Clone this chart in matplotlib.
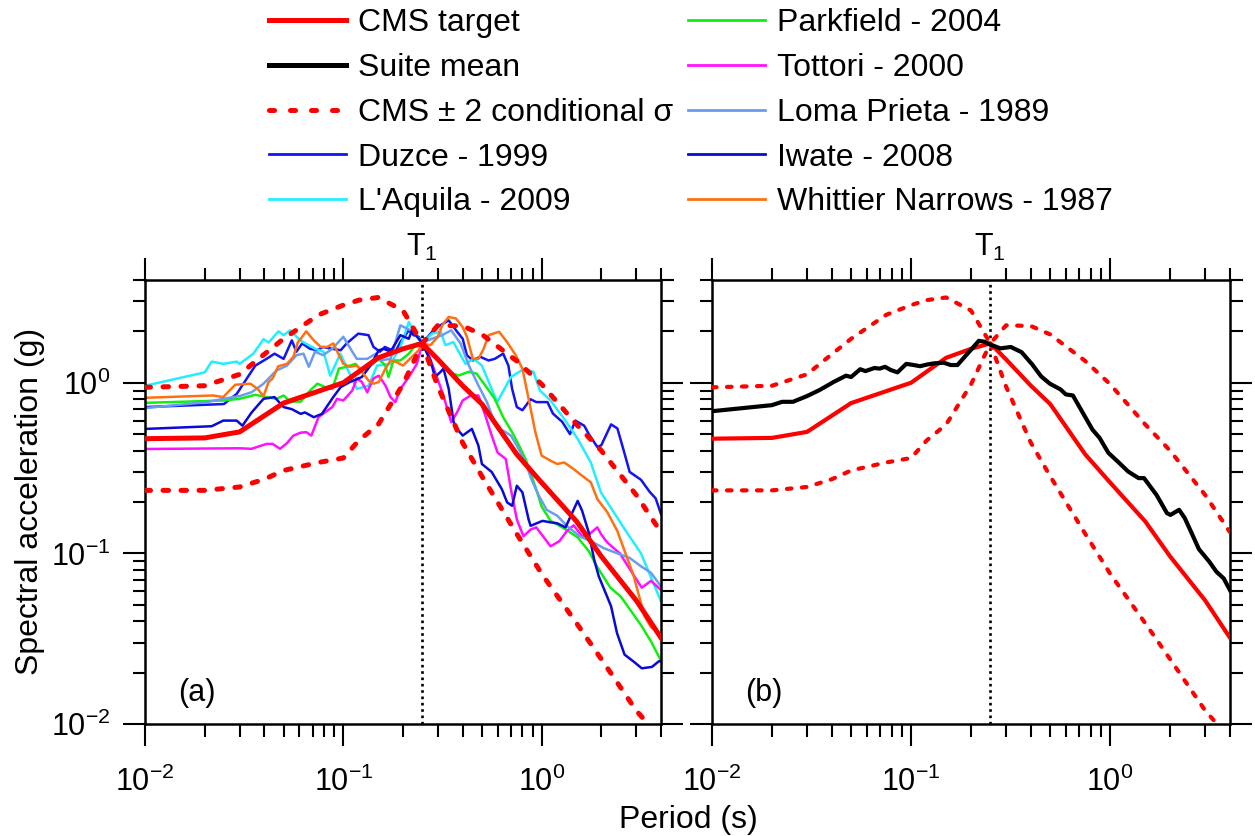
import numpy as np
import matplotlib.pyplot as plt
from matplotlib.lines import Line2D
from matplotlib.ticker import LogLocator, NullFormatter

plt.rcParams['font.family'] = ['Liberation Sans', 'DejaVu Sans']
plt.rcParams['mathtext.fontset'] = 'custom'
plt.rcParams['mathtext.rm'] = 'Liberation Sans'
plt.rcParams['axes.unicode_minus'] = False
plt.rcParams['font.size'] = 22

T1 = 0.25

# CMS target and +/- 2 conditional sigma
cms_T = [0.01, 0.02, 0.03, 0.05, 0.1, 0.15, 0.2, 0.25, 0.3, 0.4, 0.5, 0.75, 1.0, 1.5, 2.0, 3.0, 4.0]
cms_sa = [0.47, 0.475, 0.515, 0.76, 1.0, 1.40, 1.58, 1.70, 1.37, 0.96, 0.75, 0.38, 0.26, 0.154, 0.096, 0.053, 0.032]

env_T = [0.01, 0.02, 0.03, 0.04, 0.05, 0.075, 0.1, 0.12, 0.15, 0.2, 0.25,
         0.3, 0.4, 0.5, 0.75, 1.0, 1.5, 2.0, 3.0, 4.0]
upper_sa = [0.94, 0.96, 1.12, 1.47, 1.81, 2.50, 2.85, 3.05, 3.16, 2.65, 1.70,
            2.17, 2.15, 1.92, 1.34, 0.98, 0.57, 0.40, 0.22, 0.133]
lower_sa = [0.234, 0.234, 0.245, 0.272, 0.306, 0.341, 0.362, 0.46, 0.569, 0.978, 1.70,
            0.95, 0.444, 0.283, 0.13, 0.076, 0.039, 0.024, 0.012, 0.0082]

# suite mean (panel b)
mean_T = [0.01, 0.02, 0.0225, 0.0255, 0.030, 0.0347, 0.0408, 0.0471, 0.050, 0.0555, 0.059,
          0.0654, 0.0696, 0.074, 0.0787, 0.0854, 0.0946, 0.103, 0.111, 0.121, 0.131, 0.146,
          0.158, 0.171, 0.194, 0.219, 0.233, 0.248, 0.281, 0.317, 0.359, 0.406, 0.450, 0.498,
          0.563, 0.599, 0.650, 0.721, 0.815, 0.885, 0.98, 1.09, 1.23, 1.39, 1.48, 1.71, 1.93,
          2.01, 2.22, 2.37, 2.57, 2.79, 3.15, 3.42, 3.72, 4.0]
mean_sa = [0.681, 0.739, 0.773, 0.773, 0.835, 0.906, 1.01, 1.10, 1.08, 1.20, 1.17,
           1.22, 1.21, 1.24, 1.19, 1.15, 1.29, 1.27, 1.25, 1.28, 1.30, 1.31,
           1.27, 1.27, 1.50, 1.76, 1.74, 1.68, 1.59, 1.62, 1.51, 1.28, 1.09, 0.987,
           0.914, 0.854, 0.842, 0.681, 0.531, 0.475, 0.388, 0.346, 0.302, 0.276, 0.276, 0.220, 0.172,
           0.168, 0.180, 0.161, 0.131, 0.106, 0.0893, 0.078, 0.0713, 0.0608]

# individual records (panel a)
duzce_T = [0.01, 0.025, 0.029, 0.036, 0.041, 0.045, 0.05, 0.055, 0.058, 0.062, 0.068, 0.074,
           0.079, 0.088, 0.097, 0.104, 0.119, 0.134, 0.142, 0.153, 0.162, 0.183, 0.194, 0.214,
           0.226, 0.24, 0.25, 0.29, 0.34, 0.375, 0.4, 0.42, 0.45, 0.49, 0.54, 0.58, 0.64, 0.68,
           0.71, 0.75, 0.8, 0.88, 0.94, 1.0, 1.07, 1.14, 1.27, 1.39, 1.48, 1.64, 1.73, 1.91, 2.0,
           2.24, 2.41, 2.55, 2.78, 3.17, 3.5, 3.76, 4.0]
duzce_sa = [0.72, 0.75, 0.86, 1.26, 1.38, 1.48, 1.38, 1.77, 1.52, 1.70, 1.58, 1.55,
            1.62, 1.58, 1.55, 1.70, 1.94, 1.90, 1.62, 1.52, 1.62, 1.52, 1.73, 2.03,
            1.90, 1.86, 1.70, 2.08, 2.32, 1.99, 1.81, 1.45, 1.35, 1.42, 1.35, 1.38, 1.48, 1.26,
            0.92, 0.72, 0.69, 0.80, 0.77, 0.77, 0.77, 0.66, 0.59, 0.50, 0.60, 0.56, 0.50, 0.42, 0.43,
            0.57, 0.54, 0.43, 0.30, 0.27, 0.23, 0.21, 0.17]

laquila_T = [0.01, 0.02, 0.0217, 0.0248, 0.029, 0.030, 0.0352, 0.0396, 0.042, 0.0471, 0.050,
             0.054, 0.0606, 0.0723, 0.0795, 0.0859, 0.0966, 0.102, 0.117, 0.134, 0.148, 0.173,
             0.194, 0.214, 0.226, 0.25, 0.28, 0.31, 0.327, 0.359, 0.413, 0.455, 0.50, 0.597,
             0.70, 0.81, 0.91, 0.98, 1.11, 1.30, 1.52, 1.77, 1.99, 2.32, 2.72, 3.17, 4.0]
laquila_sa = [0.96, 1.15, 1.33, 1.29, 1.33, 1.29, 1.48, 1.80, 1.72, 2.0, 1.90,
              2.03, 1.77, 1.58, 1.52, 1.10, 1.48, 1.29, 0.92, 0.96, 1.26, 1.29,
              1.62, 2.27, 1.99, 1.70, 1.94, 1.99, 1.66, 1.73, 1.29, 1.38, 1.26, 0.77,
              1.08, 1.20, 1.16, 0.90, 0.787, 0.614, 0.469, 0.341, 0.228, 0.173, 0.13, 0.10, 0.0524]

parkfield_T = [0.01, 0.025, 0.030, 0.036, 0.041, 0.046, 0.050, 0.054, 0.061, 0.068, 0.074, 0.081,
               0.088, 0.095, 0.104, 0.115, 0.124, 0.137, 0.151, 0.163, 0.169, 0.179, 0.194, 0.214,
               0.235, 0.25, 0.27, 0.29, 0.315, 0.34, 0.38, 0.43, 0.47, 0.52, 0.58, 0.64, 0.71,
               0.77, 0.83, 0.89, 0.95, 1.0, 1.11, 1.3, 1.52, 1.73, 1.91, 2.22, 2.5, 2.75, 3.17,
               3.56, 4.0]
parkfield_sa = [0.762, 0.787, 0.805, 0.85, 0.824, 0.805, 0.842, 0.776, 0.775, 0.90, 0.987, 0.943,
                0.92, 1.21, 1.24, 1.29, 1.18, 1.26, 1.38, 1.26, 1.08, 1.35, 1.35, 1.48,
                1.70, 1.70, 1.55, 1.42, 1.29, 1.16, 1.10, 1.16, 1.13, 0.964, 0.805, 0.628, 0.513,
                0.428, 0.357, 0.285, 0.228, 0.188, 0.155, 0.14, 0.124, 0.103, 0.083, 0.063, 0.056, 0.048,
                0.038, 0.0305, 0.0235]

tottori_T = [0.01, 0.030, 0.0345, 0.041, 0.044, 0.048, 0.052, 0.056, 0.061, 0.065, 0.069, 0.075,
             0.081, 0.088, 0.093, 0.10, 0.111, 0.117, 0.124, 0.132, 0.142, 0.151, 0.163, 0.173,
             0.183, 0.194, 0.214, 0.235, 0.25, 0.27, 0.29, 0.32, 0.35, 0.375, 0.40, 0.44, 0.48,
             0.52, 0.56, 0.60, 0.66, 0.70, 0.75, 0.81, 0.88, 0.94, 1.11, 1.23, 1.34, 1.45, 1.60,
             1.73, 1.91, 2.0, 2.14, 2.48, 2.9, 3.2, 3.56, 4.0]
tottori_sa = [0.409, 0.413, 0.41, 0.438, 0.438, 0.41, 0.443, 0.49, 0.51, 0.513, 0.49, 0.628,
              0.672, 0.72, 0.805, 0.787, 0.90, 1.06, 1.01, 0.88, 1.06, 1.10, 0.964, 0.824,
              0.77, 0.92, 1.08, 1.29, 1.70, 1.45, 1.16, 0.84, 0.587, 0.672, 0.787, 0.842, 0.842,
              0.643, 0.49, 0.39, 0.357, 0.238, 0.158, 0.126, 0.138, 0.142, 0.11, 0.118, 0.135, 0.146, 0.126,
              0.129, 0.142, 0.129, 0.116, 0.10, 0.075, 0.063, 0.069, 0.061]

loma_T = [0.01, 0.0205, 0.0248, 0.030, 0.0345, 0.0396, 0.046, 0.052, 0.058, 0.063, 0.067, 0.072,
          0.079, 0.088, 0.10, 0.111, 0.117, 0.132, 0.146, 0.153, 0.173, 0.194, 0.209, 0.226,
          0.25, 0.28, 0.315, 0.35, 0.39, 0.43, 0.48, 0.53, 0.57, 0.60, 0.64, 0.70, 0.75, 0.83,
          0.89, 0.97, 1.06, 1.20, 1.34, 1.57, 1.77, 2.07, 2.41, 2.78, 3.17, 3.56, 4.0]
loma_sa = [0.71, 0.77, 0.805, 0.835, 0.88, 0.987, 1.18, 1.26, 1.45, 1.48, 1.24, 1.52,
           1.45, 1.58, 1.86, 1.52, 1.38, 1.38, 1.48, 1.35, 1.38, 2.17, 2.08, 1.99,
           1.72, 1.81, 1.90, 2.03, 1.70, 1.26, 0.964, 0.77, 0.614, 0.536, 0.524, 0.49, 0.428, 0.341,
           0.27, 0.217, 0.18, 0.166, 0.145, 0.125, 0.118, 0.107, 0.10, 0.094, 0.084, 0.077, 0.064]

iwate_T = [0.01, 0.0217, 0.0248, 0.029, 0.031, 0.0345, 0.0396, 0.045, 0.05, 0.055, 0.061, 0.064,
           0.071, 0.078, 0.089, 0.097, 0.108, 0.124, 0.137, 0.151, 0.16, 0.173, 0.194, 0.214,
           0.222, 0.24, 0.25, 0.275, 0.29, 0.31, 0.32, 0.34, 0.36, 0.375, 0.4, 0.445, 0.48, 0.5,
           0.56, 0.63, 0.67, 0.71, 0.75, 0.8, 0.86, 0.88, 1.01, 1.11, 1.2, 1.32, 1.52, 1.6, 1.73,
           1.84, 1.94, 2.24, 2.4, 2.62, 2.9, 3.2, 3.6, 3.9, 4.0]
iwate_sa = [0.536, 0.556, 0.60, 0.60, 0.56, 0.67, 0.805, 0.824, 0.72, 0.70, 0.657, 0.67,
            0.628, 0.657, 0.824, 0.943, 1.01, 1.08, 1.26, 1.55, 1.58, 1.52, 1.90, 1.81,
            2.03, 1.81, 1.70, 1.35, 1.08, 1.16, 1.21, 0.92, 0.587, 0.536, 0.49, 0.536, 0.428, 0.334,
            0.30, 0.238, 0.199, 0.19, 0.249, 0.228, 0.158, 0.145, 0.155, 0.152, 0.15, 0.142, 0.203, 0.178, 0.132,
            0.092, 0.0736, 0.049, 0.0341, 0.0255, 0.0233, 0.0212, 0.0216, 0.0233, 0.0233]

whittier_T = [0.01, 0.022, 0.0248, 0.0285, 0.034, 0.037, 0.0396, 0.042, 0.044, 0.047, 0.052, 0.056,
              0.059, 0.061, 0.065, 0.071, 0.077, 0.083, 0.089, 0.10, 0.108, 0.117, 0.124, 0.134,
              0.142, 0.151, 0.163, 0.173, 0.186, 0.20, 0.222, 0.24, 0.25, 0.275, 0.30, 0.315, 0.34,
              0.37, 0.40, 0.42, 0.45, 0.48, 0.51, 0.54, 0.61, 0.67, 0.74, 0.80, 0.86, 0.93, 1.0,
              1.11, 1.2, 1.3, 1.45, 1.64, 1.77, 1.91, 2.14, 2.41, 2.57, 2.9, 3.3, 3.56, 4.0]
whittier_sa = [0.816, 0.842, 0.824, 0.973, 0.987, 0.92, 0.835, 1.01, 1.06, 1.25, 1.29, 1.42,
               1.73, 1.81, 2.0, 1.77, 1.62, 1.62, 1.70, 1.29, 1.24, 1.26, 1.16, 1.03,
               0.987, 1.01, 1.21, 1.35, 1.32, 1.26, 1.42, 1.55, 1.70, 1.66, 1.86, 2.17, 2.43,
               2.38, 2.12, 1.86, 1.38, 1.38, 1.58, 1.90, 1.99, 1.73, 1.45, 1.21, 0.805, 0.513, 0.374,
               0.349, 0.334, 0.341, 0.312, 0.279, 0.261, 0.208, 0.175, 0.135, 0.11, 0.075, 0.043, 0.037, 0.0334]

records = [
    ("Duzce - 1999", duzce_T, duzce_sa, "#1414f0"),
    ("L'Aquila - 2009", laquila_T, laquila_sa, "#22eeff"),
    ("Parkfield - 2004", parkfield_T, parkfield_sa, "#11ee11"),
    ("Tottori - 2000", tottori_T, tottori_sa, "#ff11ff"),
    ("Loma Prieta - 1989", loma_T, loma_sa, "#6a9cf0"),
    ("Iwate - 2008", iwate_T, iwate_sa, "#0a0ad6"),
    ("Whittier Narrows - 1987", whittier_T, whittier_sa, "#ff7010"),
]

RED = "#ff0000"
dash = (0, (1.1, 2.5))


def style_axes(ax, panel, ylabels):
    ax.set_xscale('log')
    ax.set_yscale('log')
    ax.set_xlim(0.01, 4)
    ax.set_ylim(0.01, 4)
    for axis in (ax.xaxis, ax.yaxis):
        axis.set_major_locator(LogLocator(base=10, numticks=10))
        axis.set_minor_locator(LogLocator(base=10, subs=np.arange(2, 10), numticks=20))
        axis.set_minor_formatter(NullFormatter())
    ax.tick_params(which='both', direction='out', top=True, right=True, width=1.5)
    ax.tick_params(which='major', length=16, labelsize=22)
    ax.tick_params(which='minor', length=9)
    ax.tick_params(axis='x', which='major', pad=15)
    ax.tick_params(axis='y', which='major', pad=9)
    if not ylabels:
        ax.tick_params(labelleft=False)
    for s in ax.spines.values():
        s.set_linewidth(1.8)
    ax.axvline(T1, color='k', lw=1.9, ls=(0, (1.0, 1.4)), zorder=1)
    ax.annotate(r'$\mathregular{T_1}$', xy=(T1, 1), xycoords=('data', 'axes fraction'),
                xytext=(0, 12), textcoords='offset points', ha='center', va='bottom', fontsize=22)
    ax.text(0.064, 0.07, panel, transform=ax.transAxes, va='center', ha='left', fontsize=22)


fig = plt.figure(figsize=(12.55, 8.36), dpi=100)
ax1 = fig.add_axes([145 / 1255, 1 - 724 / 836, 516 / 1255, 444 / 836])
ax2 = fig.add_axes([712 / 1255, 1 - 724 / 836, 518 / 1255, 444 / 836])

# panel (a): records
for name, T, sa, c in records:
    ax1.plot(T, sa, color=c, lw=1.8, zorder=2)
ax1.plot(env_T, upper_sa, color=RED, lw=3.6, ls=dash, dash_capstyle='round', zorder=3)
ax1.plot(env_T, lower_sa, color=RED, lw=3.6, ls=dash, dash_capstyle='round', zorder=3)
ax1.plot(cms_T, cms_sa, color=RED, lw=3.6, zorder=4)

# panel (b): suite mean
ax2.plot(env_T, upper_sa, color=RED, lw=3.0, ls=dash, dash_capstyle='round', zorder=3)
ax2.plot(env_T, lower_sa, color=RED, lw=3.0, ls=dash, dash_capstyle='round', zorder=3)
ax2.plot(cms_T, cms_sa, color=RED, lw=3.0, zorder=4)
ax2.plot(mean_T, mean_sa, color='k', lw=3.0, zorder=4)

style_axes(ax1, '(a)', True)
style_axes(ax2, '(b)', False)

fig.text(0.024, 0.40, 'Spectral acceleration (g)', rotation=90, ha='center', va='center', fontsize=23)
fig.text(688 / 1255, 1 - 820 / 836, 'Period (s)', ha='center', va='center', fontsize=23)

handles = [
    Line2D([], [], color=RED, lw=3.6),
    Line2D([], [], color='k', lw=3.6),
    Line2D([], [], color=RED, lw=3.6, ls=(0, (1.0, 3.2)), dash_capstyle='round'),
]
labels = ['CMS target', 'Suite mean', u'CMS \u00b1 2 conditional \u03c3']
for name, T, sa, c in records:
    handles.append(Line2D([], [], color=c, lw=2.0))
    labels.append(name)

fig.legend(handles, labels, ncol=2, loc='upper left', bbox_to_anchor=(253 / 1255, 1.009),
           frameon=False, borderpad=0.0, handlelength=2.4, handletextpad=0.4,
           columnspacing=0.45, labelspacing=0.46, fontsize=23)

fig.savefig('out.png', dpi=100)
